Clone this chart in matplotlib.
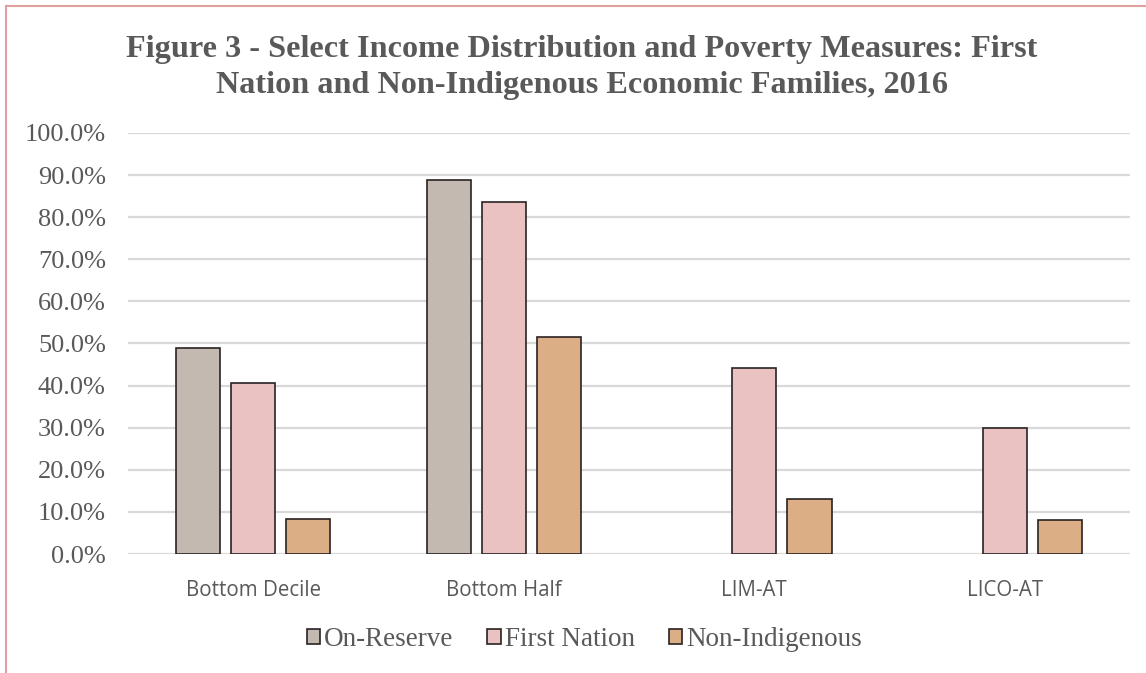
import numpy as np
import matplotlib
matplotlib.use("Agg")
import matplotlib.pyplot as plt
from matplotlib.lines import Line2D

categories = ["Bottom Decile", "Bottom Half", "LIM-AT", "LICO-AT"]
series = ["On-Reserve", "First Nation", "Non-Indigenous"]
on_reserve = [49.0, 88.9, np.nan, np.nan]
first_nation = [40.6, 83.7, 44.2, 29.9]
non_indigenous = [8.4, 51.5, 13.1, 8.1]
yticks = np.arange(0, 101, 10)

colors = ["#c3b9b1", "#e9c2c1", "#dcae86"]
edge = "#2a2222"
grey_text = "#595959"

fig = plt.figure(figsize=(11.46, 6.73), dpi=100)
ax = fig.add_axes([0.1117, 0.1768, 0.8745, 0.6256])

x = np.arange(len(categories))
width = 0.176
step = 0.22
for i, (vals, c, name) in enumerate(zip([on_reserve, first_nation, non_indigenous], colors, series)):
    ax.bar(x + (i - 1) * step, vals, width, color=c, edgecolor=edge,
           linewidth=1.2, label=name, zorder=3)

ax.set_xlim(-0.5, len(categories) - 0.5)
ax.set_ylim(0, 100)
ax.set_yticks(yticks)
ax.set_yticklabels([f"{v:.1f}%" for v in yticks], fontfamily="Liberation Serif",
                   fontsize=19, color=grey_text)
ax.set_xticks(x)
ax.set_xticklabels(categories, fontfamily="Open Sans", fontsize=14.8, color=grey_text)
ax.tick_params(axis="both", length=0)
ax.tick_params(axis="x", pad=19)
ax.tick_params(axis="y", pad=16)
ax.grid(axis="y", color="#d9d9d9", linewidth=1.6, zorder=0)
for s in ax.spines.values():
    s.set_visible(False)

fig.text(0.508, 0.9, "Figure 3 - Select Income Distribution and Poverty Measures: First\n"
         "Nation and Non-Indigenous Economic Families, 2016",
         ha="center", va="center", fontfamily="Liberation Serif", fontweight="bold",
         fontsize=23.2, color=grey_text, linespacing=1.3)

leg = fig.legend(loc="center", bbox_to_anchor=(0.51, 0.05), ncol=3, frameon=False,
                 prop={"family": "Liberation Serif", "size": 19.5},
                 handlelength=0.5, handleheight=0.5, handletextpad=0.15,
                 columnspacing=1.25)
for t in leg.get_texts():
    t.set_color(grey_text)

# thin pink frame on left and top
fig.add_artist(Line2D([0.0052, 0.0052], [0, 0.991], transform=fig.transFigure,
                      color="#e0a0a0", linewidth=1.5))
fig.add_artist(Line2D([0.0052, 1], [0.991, 0.991], transform=fig.transFigure,
                      color="#e0a0a0", linewidth=1.5))

fig.savefig("out.png", dpi=100)
